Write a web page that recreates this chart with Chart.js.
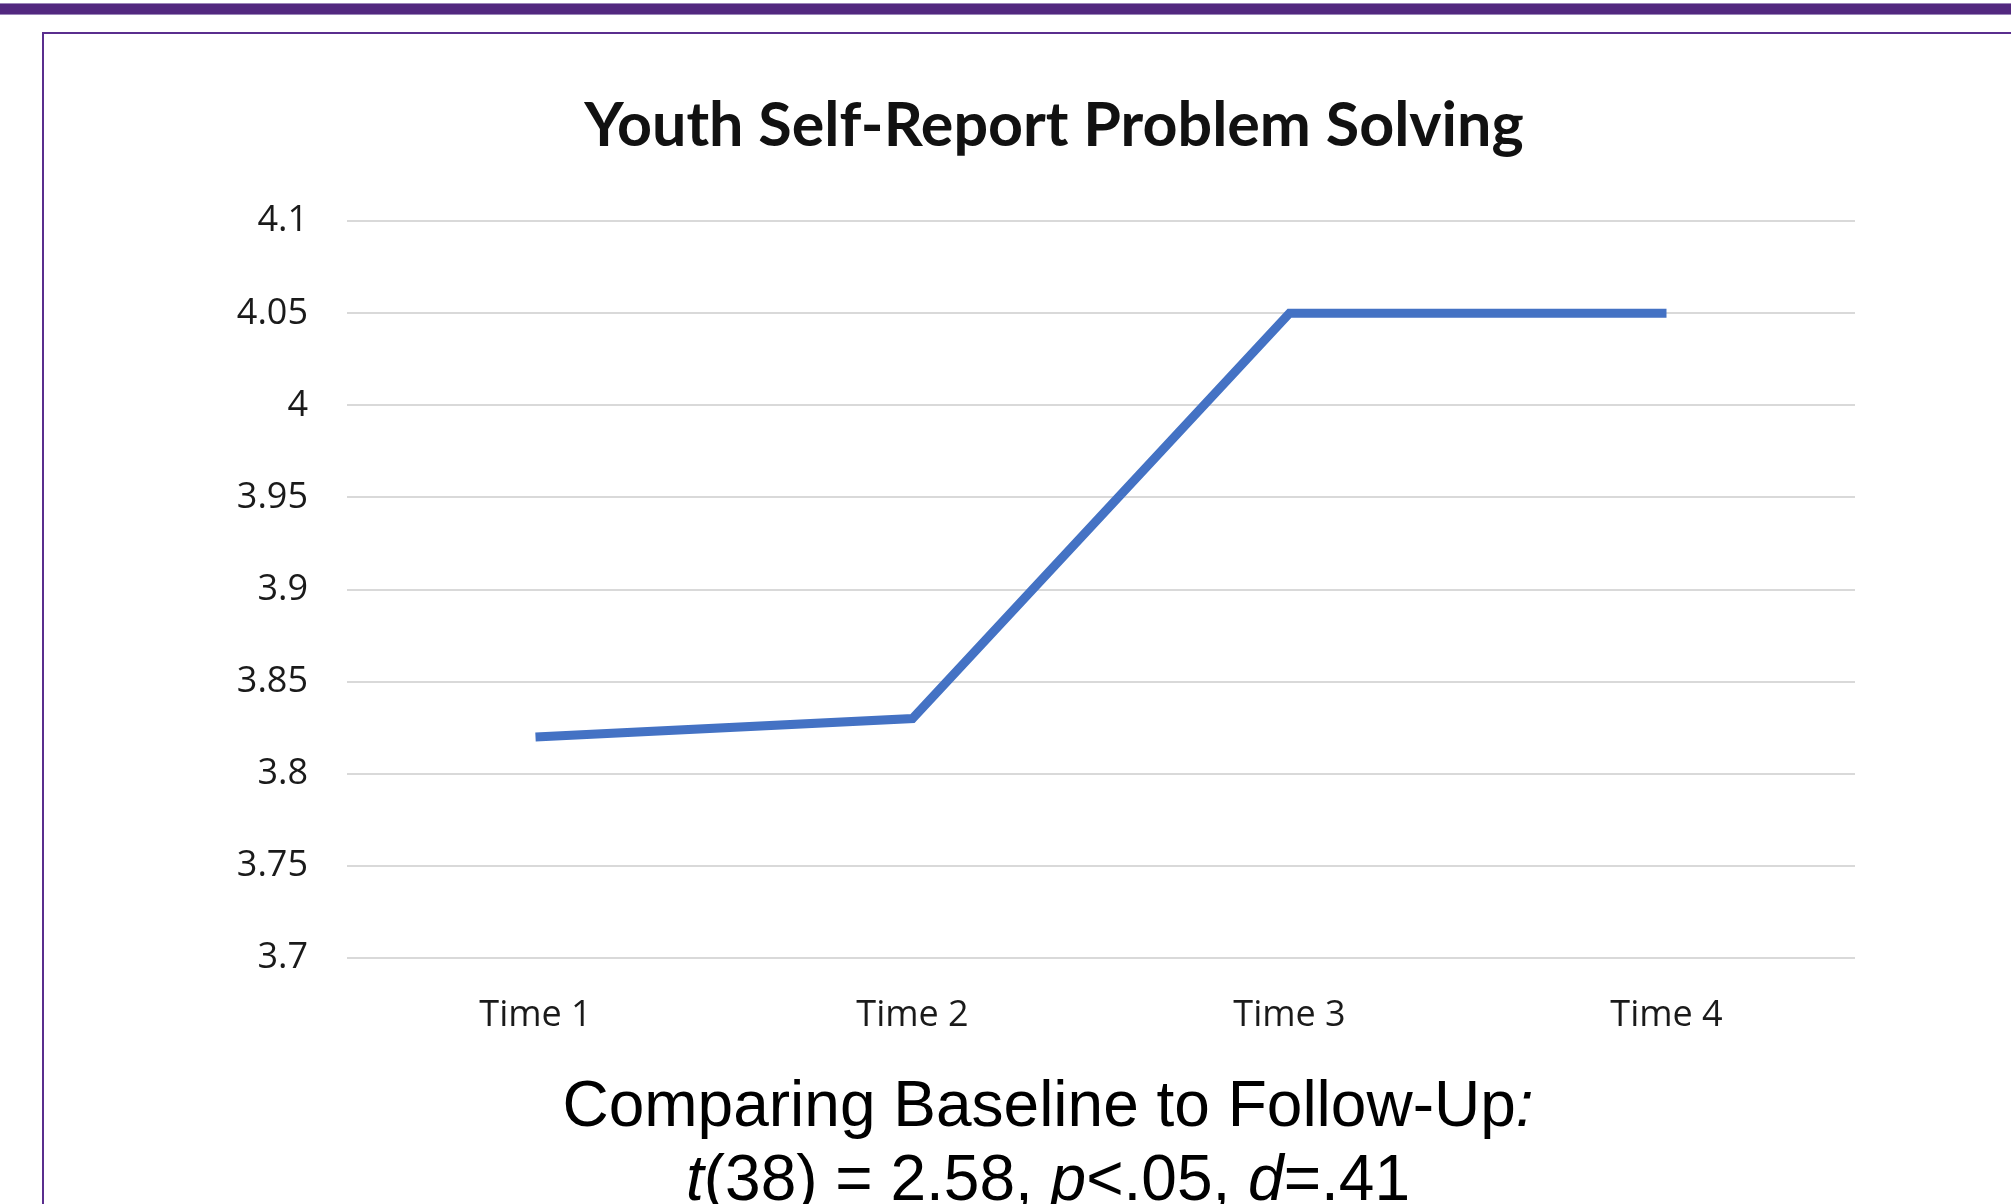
<!DOCTYPE html>
<html>
<head>
<meta charset="utf-8">
<script src="https://cdn.jsdelivr.net/npm/chart.js@4.4.1/dist/chart.umd.min.js"></script>
<style>
  html, body { margin: 0; padding: 0; background: #ffffff; overflow: hidden; }
  #wrap { position: relative; width: 2011px; height: 1204px; }
  #chart { position: absolute; left: 0; top: 0; }
  #caption {
    position: absolute; left: 0; top: 1067px; width: 2096px;
    text-align: center; font-family: "Liberation Sans", Arial, sans-serif;
    font-size: 64px; line-height: 74px; color: #000000; white-space: nowrap;
  }
</style>
</head>
<body>
<div id="wrap">
  <canvas id="chart" width="2011" height="1204"></canvas>
  <div id="caption">Comparing Baseline to Follow-Up<i>:</i><br><i>t</i>(38) = 2.58, <i>p</i>&lt;.05, <i>d</i>=.41</div>
</div>
<script>
// Survey time points and mean youth self-report problem-solving scores
const categories = ['Time 1', 'Time 2', 'Time 3', 'Time 4'];
const problemSolving = [3.82, 3.83, 4.05, 4.05];

// Value axis range
const yMin = 3.7;
const yMax = 4.1;
const yStep = 0.05;

const chartTitle = 'Youth Self-Report Problem Solving';

// Slide frame: purple header band and the thin purple content box
const slideFrame = {
  id: 'slideFrame',
  afterLayout(chart) {
    // centre the title over the slide box rather than the canvas
    const t = chart.titleBlock;
    if (t) { t.left = 253; t.width = t.right - t.left; }
  },
  beforeDraw(chart) {
    const ctx = chart.ctx;
    const w = chart.width, h = chart.height;
    ctx.save();
    ctx.fillStyle = '#ffffff';
    ctx.fillRect(0, 0, w, h);
    ctx.fillStyle = '#52287f';
    ctx.fillRect(0, 3, w, 12);
    ctx.fillStyle = '#9b86b9';
    ctx.fillRect(0, 3, w, 1);
    ctx.fillRect(0, 14, w, 1);
    ctx.strokeStyle = '#5a2e8e';
    ctx.lineWidth = 2;
    ctx.beginPath();
    ctx.moveTo(43, h);
    ctx.lineTo(43, 33);
    ctx.lineTo(w, 33);
    ctx.stroke();
    ctx.restore();
  }
};

new Chart(document.getElementById('chart'), {
  type: 'line',
  data: {
    labels: categories,
    datasets: [{
      label: 'Problem Solving',
      data: problemSolving,
      borderColor: '#4472c4',
      backgroundColor: '#4472c4',
      borderWidth: 9,
      tension: 0,
      pointRadius: 0,
      pointHoverRadius: 0,
      borderCapStyle: 'butt',
      borderJoinStyle: 'miter',
      fill: false
    }]
  },
  options: {
    responsive: false,
    animation: false,
    devicePixelRatio: 1,
    layout: { padding: { left: 0, right: 156, top: 0, bottom: 0 } },
    plugins: {
      legend: { display: false },
      tooltip: { enabled: false },
      title: {
        display: true,
        text: chartTitle,
        color: '#111111',
        font: { family: 'Lato', size: 61, weight: 'bold' },
        lineHeight: 1.2,
        padding: { top: 90, bottom: 58 }
      }
    },
    scales: {
      x: {
        offset: true,
        grid: { display: false, drawTicks: false },
        border: { display: false },
        ticks: {
          color: '#1a1a1a',
          font: { family: 'Open Sans', size: 36 },
          padding: 36,
          maxRotation: 0
        },
        afterFit(scale) { scale.height = 246; }
      },
      y: {
        min: yMin,
        max: yMax,
        grid: { color: '#d9d9d9', lineWidth: 2, drawTicks: false },
        border: { display: false },
        ticks: {
          stepSize: yStep,
          color: '#1a1a1a',
          font: { family: 'Open Sans', size: 36 },
          padding: 39,
          callback: (v) => String(Math.round(v * 100) / 100)
        },
        afterFit(scale) { scale.width = 347; }
      }
    }
  },
  plugins: [slideFrame]
});
</script>
</body>
</html>
